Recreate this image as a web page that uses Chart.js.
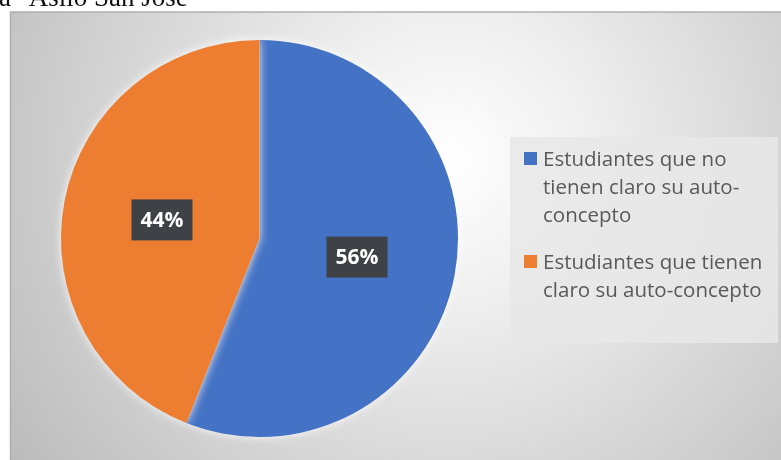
<!DOCTYPE html>
<html>
<head>
<meta charset="utf-8">
<script src="https://cdn.jsdelivr.net/npm/chart.js@4/dist/chart.umd.min.js"></script>
<style>
  html, body { margin: 0; padding: 0; background: #ffffff; }
  #wrap { position: relative; width: 781px; height: 460px; }
</style>
</head>
<body>
<div id="wrap"><canvas id="pie" width="781" height="460"></canvas></div>
<script>
// Group names, one entry per slice (each already split into its printed lines)
const categories = [
  ['Estudiantes que no', 'tienen claro su auto-', 'concepto'],
  ['Estudiantes que tienen', 'claro su auto-concepto']
];
// Share of students in each group, in percent
const shares = [56, 44];
const sliceColors = ['#4472C4', '#ED7D31'];
const captionTail = 'a "Asilo San José"';

// Framed panel with a soft radial shading, plus the caption running above it
const panelBackground = {
  id: 'panelBackground',
  beforeDraw(chart) {
    const ctx = chart.ctx;
    ctx.save();
    ctx.fillStyle = '#ffffff';
    ctx.fillRect(0, 0, chart.width, chart.height);
    const g = ctx.createRadialGradient(450, 160, 0, 450, 160, 540);
    g.addColorStop(0, '#ffffff');
    g.addColorStop(0.25, '#f0f0f0');
    g.addColorStop(1, '#bababa');
    ctx.fillStyle = g;
    ctx.fillRect(10, 12, chart.width - 10, chart.height - 12);
    ctx.strokeStyle = '#b0b0b0';
    ctx.lineWidth = 1.5;
    ctx.beginPath();
    ctx.moveTo(10.5, chart.height);
    ctx.lineTo(10.5, 12);
    ctx.lineTo(chart.width, 12);
    ctx.stroke();
    ctx.fillStyle = '#111111';
    ctx.font = '27px "Liberation Serif", "Times New Roman", serif';
    ctx.textBaseline = 'alphabetic';
    ctx.fillText(captionTail, -1, 6);
    ctx.restore();
  }
};

// Faint light halo around the pie
const pieGlow = {
  id: 'pieGlow',
  beforeDatasetsDraw(chart) {
    const ctx = chart.ctx;
    ctx.save();
    ctx.shadowColor = 'rgba(255,255,255,0.9)';
    ctx.shadowBlur = 10;
  },
  afterDatasetsDraw(chart) {
    chart.ctx.restore();
  }
};

// Percentage tags in dark boxes at the middle of each slice
const sliceTags = {
  id: 'sliceTags',
  afterDatasetsDraw(chart) {
    const ctx = chart.ctx;
    const meta = chart.getDatasetMeta(0);
    ctx.save();
    ctx.font = 'bold 21px "Open Sans", sans-serif';
    ctx.textAlign = 'center';
    ctx.textBaseline = 'middle';
    meta.data.forEach((arc, i) => {
      const p = arc.getCenterPoint();
      const text = chart.data.datasets[0].data[i] + '%';
      const w = 61, h = 41;
      ctx.fillStyle = '#3e4247';
      ctx.fillRect(p.x - w / 2, p.y - h / 2, w, h);
      ctx.fillStyle = '#ffffff';
      ctx.fillText(text, p.x, p.y + 1);
    });
    ctx.restore();
  }
};

// Legend panel on the right, with wrapped entries
const sideLegend = {
  id: 'sideLegend',
  afterDraw(chart) {
    const ctx = chart.ctx;
    const labels = chart.data.labels;
    const colors = chart.data.datasets[0].backgroundColor;
    ctx.save();
    ctx.fillStyle = 'rgba(232,232,232,0.85)';
    ctx.fillRect(510, 137, 268, 206);
    ctx.font = '20.5px "Open Sans", sans-serif';
    ctx.textBaseline = 'alphabetic';
    ctx.textAlign = 'left';
    const lineGap = 28, itemGap = 19;
    let baseline = 166;
    labels.forEach((lines, i) => {
      ctx.fillStyle = colors[i];
      ctx.fillRect(524, baseline - 14, 13, 13);
      ctx.fillStyle = '#595959';
      lines.forEach((ln, k) => {
        ctx.fillText(ln, 543, baseline + k * lineGap);
      });
      baseline += (lines.length - 1) * lineGap + lineGap + itemGap;
    });
    ctx.restore();
  }
};

new Chart(document.getElementById('pie'), {
  type: 'pie',
  data: {
    labels: categories,
    datasets: [{
      data: shares,
      backgroundColor: sliceColors,
      borderWidth: 0
    }]
  },
  options: {
    responsive: false,
    animation: false,
    layout: { padding: { left: 61, right: 323, top: 40, bottom: 23 } },
    plugins: {
      legend: { display: false },
      tooltip: { enabled: false }
    }
  },
  plugins: [panelBackground, pieGlow, sliceTags, sideLegend]
});
</script>
</body>
</html>
